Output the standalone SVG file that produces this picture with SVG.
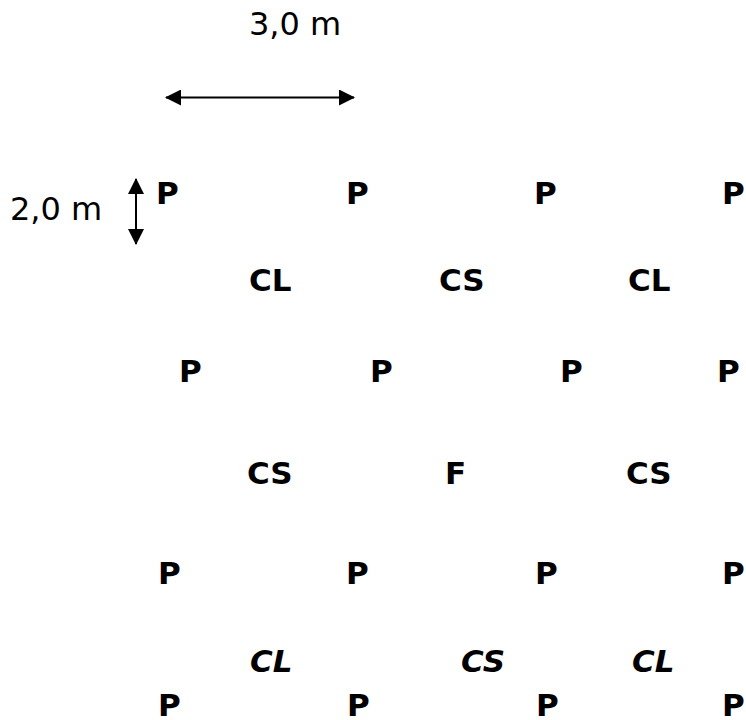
<svg xmlns="http://www.w3.org/2000/svg" width="746" height="720" viewBox="0 0 746 720">
<style>
  text { font-family: "DejaVu Sans", Verdana, sans-serif; fill: #000; }
  .n { font-size: 31px; font-weight: bold; }
  .i { font-style: italic; }
  .dim { font-size: 32px; }
  .arr { stroke: #000; stroke-width: 2; fill: none; }
</style>
<defs>
  <marker id="ah" markerUnits="userSpaceOnUse" markerWidth="16" markerHeight="16" viewBox="0 0 16 16" refX="15" refY="8" orient="auto-start-reverse">
    <polygon points="0,0 16,8 0,16" fill="#000"/>
  </marker>
</defs>
<rect width="746" height="720" fill="#fff"/>
<g id="connectors">
  <line class="arr" x1="166" y1="97.5" x2="354" y2="97.5" marker-start="url(#ah)" marker-end="url(#ah)"/>
  <line class="arr" x1="136" y1="179" x2="136" y2="244" marker-start="url(#ah)" marker-end="url(#ah)"/>
</g>
<g id="dim-3m"><text class="dim" x="249" y="35">3,0 m</text></g>
<g id="dim-2m"><text class="dim" x="10" y="220">2,0 m</text></g>
<g id="r1-p1"><text class="n" x="156" y="204">P</text></g>
<g id="r1-p2"><text class="n" x="346" y="204">P</text></g>
<g id="r1-p3"><text class="n" x="534" y="204">P</text></g>
<g id="r1-p4"><text class="n" x="722" y="204">P</text></g>
<g id="r2-cl1"><text class="n" x="249" y="291">CL</text></g>
<g id="r2-cs"><text class="n" x="439" y="291">CS</text></g>
<g id="r2-cl2"><text class="n" x="628" y="291">CL</text></g>
<g id="r3-p1"><text class="n" x="179" y="382">P</text></g>
<g id="r3-p2"><text class="n" x="370" y="382">P</text></g>
<g id="r3-p3"><text class="n" x="560" y="382">P</text></g>
<g id="r3-p4"><text class="n" x="717" y="382">P</text></g>
<g id="r4-cs1"><text class="n" x="247" y="484">CS</text></g>
<g id="r4-f"><text class="n" x="445" y="484">F</text></g>
<g id="r4-cs2"><text class="n" x="626" y="484">CS</text></g>
<g id="r5-p1"><text class="n" x="158" y="584">P</text></g>
<g id="r5-p2"><text class="n" x="346" y="584">P</text></g>
<g id="r5-p3"><text class="n" x="535" y="584">P</text></g>
<g id="r5-p4"><text class="n" x="722" y="584">P</text></g>
<g id="r6-cl1"><text class="n i" x="250" y="672">CL</text></g>
<g id="r6-cs"><text class="n i" x="461" y="672">CS</text></g>
<g id="r6-cl2"><text class="n i" x="632" y="672">CL</text></g>
<g id="r7-p1"><text class="n" x="158" y="716">P</text></g>
<g id="r7-p2"><text class="n" x="347" y="716">P</text></g>
<g id="r7-p3"><text class="n" x="536" y="716">P</text></g>
<g id="r7-p4"><text class="n" x="722" y="716">P</text></g>
</svg>
